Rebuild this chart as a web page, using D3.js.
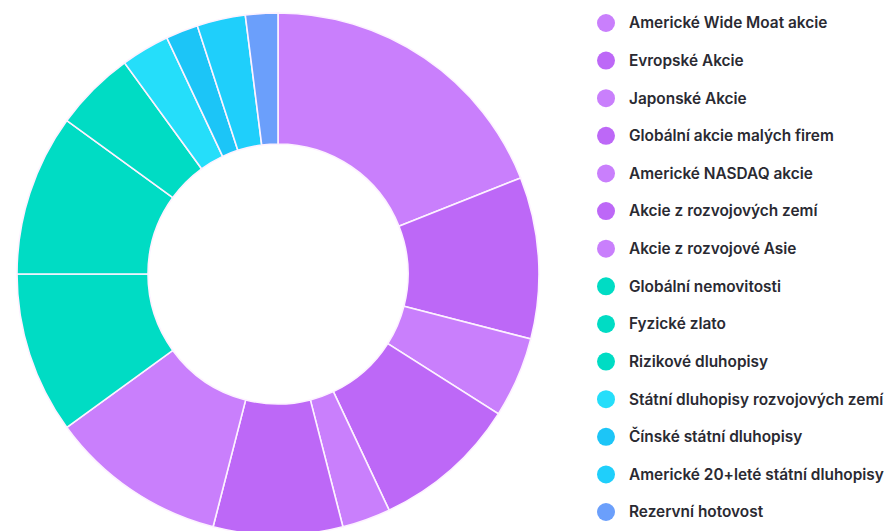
<!DOCTYPE html>
<html>
<head>
<meta charset="utf-8">
<script src="https://cdn.jsdelivr.net/npm/d3@7"></script>
<style>
    body { margin: 0; background: #fff; }
    .legend text { font-family: Inter, Roboto, "Noto Sans", sans-serif; font-weight: 600; font-size: 15.4px; fill: #2a2a32; }
</style>
</head>
<body>
<div class="view"></div>
<script>
// Categories (legend order = slice order, clockwise from 12 o'clock)
const categories = [
    "Americké Wide Moat akcie",
    "Evropské Akcie",
    "Japonské Akcie",
    "Globální akcie malých firem",
    "Americké NASDAQ akcie",
    "Akcie z rozvojových zemí",
    "Akcie z rozvojové Asie",
    "Globální nemovitosti",
    "Fyzické zlato",
    "Rizikové dluhopisy",
    "Státní dluhopisy rozvojových zemí",
    "Čínské státní dluhopisy",
    "Americké 20+leté státní dluhopisy",
    "Rezervní hotovost"
];

// Share of each slice, in percent
const values = [19, 10, 5, 9, 3, 8, 11, 10, 10, 5, 3, 2, 3, 2];

const colors = [
    "#c97ffc", "#bd68f7", "#c97ffc", "#bd68f7", "#c97ffc", "#bd68f7", "#c97ffc",
    "#00dcc4", "#00dcc4", "#00dcc4",
    "#25defa", "#1cc5f7", "#1fcffb",
    "#6b9ffb"
];

class Donut {
    constructor(){
        this.width = 889;
        this.height = 531;
        this.cx = 278;
        this.cy = 274;
        this.outer = 261;
        this.inner = 130;
    }

    draw(){
        let svg = d3.select(".view").append("svg")
            .attr("width", this.width)
            .attr("height", this.height);

        let data = categories.map((c, i) => ({name: c, value: values[i], color: colors[i]}));

        let pie = d3.pie().sort(null).value(d => d.value);
        let arc = d3.arc().innerRadius(this.inner).outerRadius(this.outer);

        // slices
        let g = svg.append("g")
            .attr("transform", "translate(" + this.cx + "," + this.cy + ")");
        g.selectAll("path")
            .data(pie(data))
            .join("path")
            .attr("d", arc)
            .attr("fill", d => d.data.color)
            .attr("stroke", "#fdf2ff")
            .attr("stroke-width", 1.6);

        // legend
        let y = d3.scalePoint().domain(categories).range([23, 512]);
        let legend = svg.append("g").attr("class", "legend");
        let rows = legend.selectAll("g")
            .data(data)
            .join("g")
            .attr("transform", d => "translate(0," + y(d.name) + ")");
        rows.append("circle")
            .attr("cx", 606)
            .attr("cy", 0)
            .attr("r", 9)
            .attr("fill", d => d.color);
        rows.append("text")
            .attr("x", 629)
            .attr("y", 0)
            .attr("dy", "0.35em")
            .text(d => d.name);
    }
}

new Donut().draw();
</script>
</body>
</html>
